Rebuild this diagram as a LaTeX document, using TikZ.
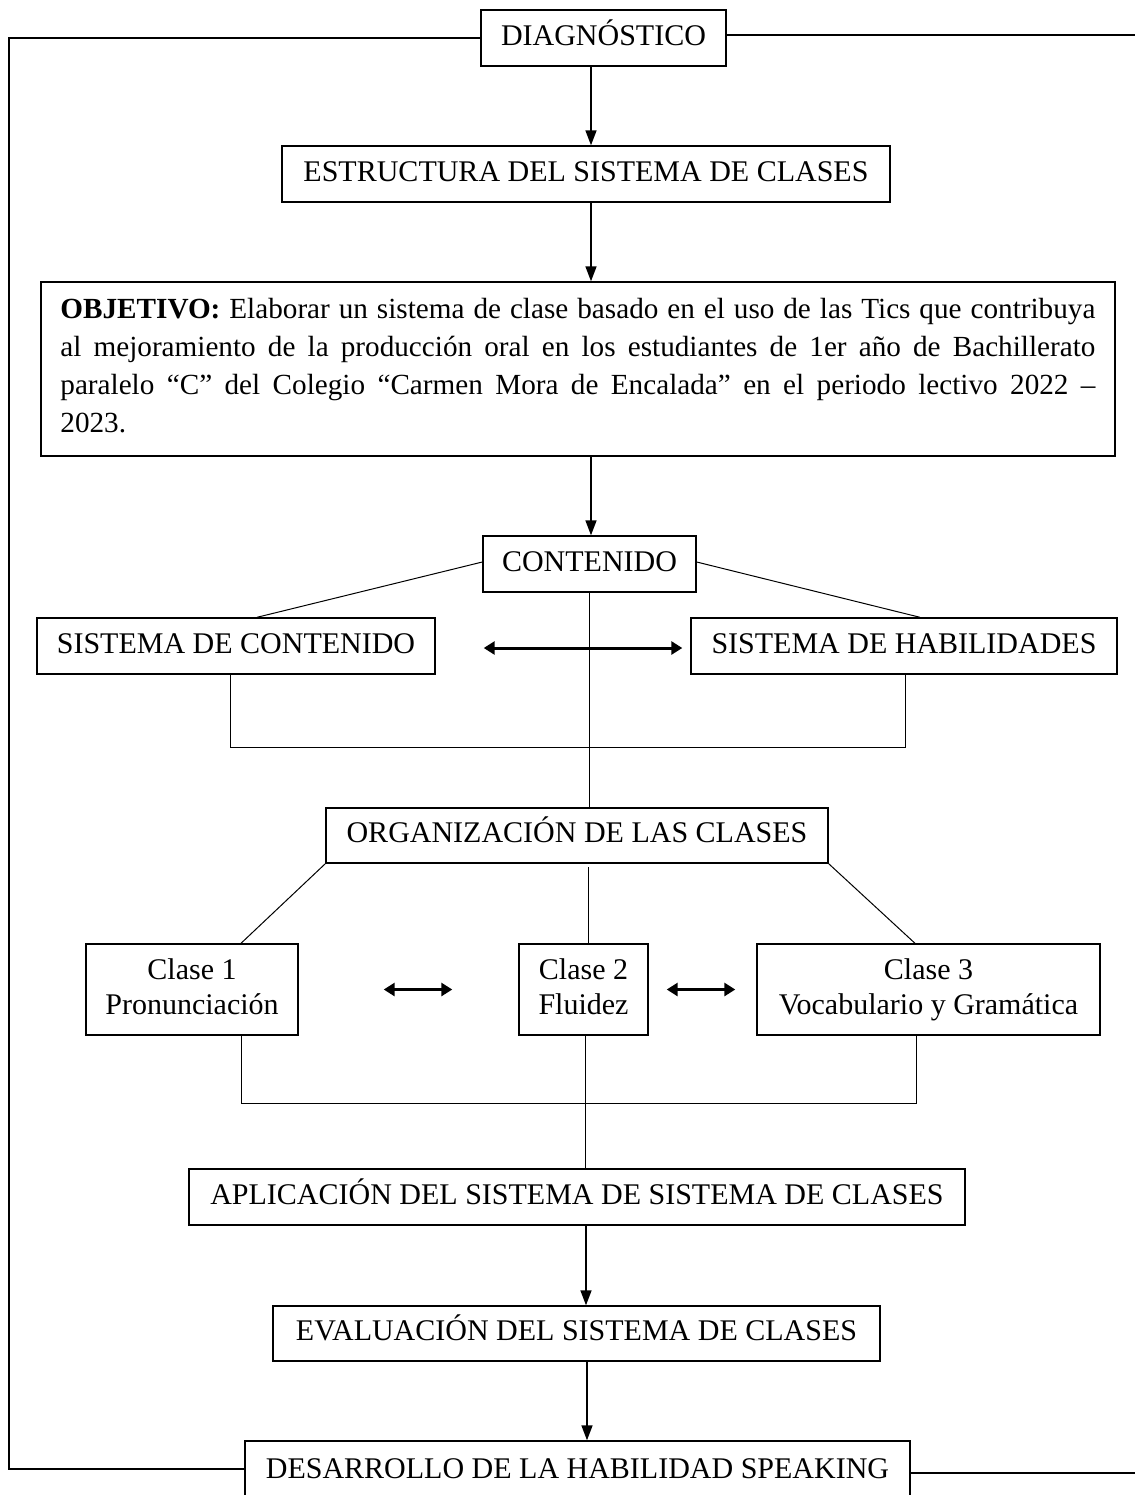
\documentclass[tikz,border=0pt]{standalone}
\usepackage{fontspec}
\setmainfont{Liberation Serif}
\usetikzlibrary{arrows.meta,calc}
\tikzset{
  box/.style={draw, line width=0.7pt, rectangle, inner sep=0pt, font=\fontsize{15}{17.5}\selectfont, align=center},
  onebox/.style={box, text height=10.5pt, text depth=3.5pt},
  link/.style={line width=0.5pt},
  down/.style={line width=0.8pt, -{Triangle[length=7.5pt,width=5.5pt]}},
  both/.style={line width=1.5pt, {Triangle[length=5.5pt,width=6.5pt]}-{Triangle[length=5.5pt,width=6.5pt]}},
}
\begin{document}
\begin{tikzpicture}[x=0.5pt,y=-0.5pt]
\useasboundingbox (0,0) rectangle (1135,1495);
% boxes
\node[onebox, minimum width=122.5pt, minimum height=28pt] (diag) at (603.5,38) {DIAGNÓSTICO};
\node[onebox, minimum width=304pt, minimum height=28pt] (estr) at (586,174) {ESTRUCTURA DEL SISTEMA DE CLASES};
\node[box, minimum width=537pt, minimum height=87pt] (objbox) at (578,369) {};
\node[anchor=north west, inner sep=0pt, text width=517.5pt, align=justify,
      font=\fontsize{14.6}{19}\selectfont] (obj) at (60,298)
  {\textbf{OBJETIVO:} Elaborar un sistema de clase basado en el uso de las Tics que contribuya\linebreak
   al mejoramiento de la producción oral en los estudiantes de 1er año de Bachillerato\linebreak
   paralelo “C” del Colegio “Carmen Mora de Encalada” en el periodo lectivo 2022 –\linebreak
   2023.};
\node[onebox, minimum width=106.5pt, minimum height=28pt] (cont) at (589.5,564) {CONTENIDO};
\node[onebox, minimum width=199pt, minimum height=28pt] (sc) at (236,646) {SISTEMA DE CONTENIDO};
\node[onebox, minimum width=213pt, minimum height=28pt] (sh) at (904,646) {SISTEMA DE HABILIDADES};
\node[onebox, minimum width=251pt, minimum height=27.5pt] (org) at (577,835.5) {ORGANIZACIÓN DE LAS CLASES};
\node[box, minimum width=106pt, minimum height=45.5pt] (c1) at (192,989.5) {\strut Clase 1\\\strut Pronunciación};
\node[box, minimum width=64.5pt, minimum height=45.5pt] (c2) at (583.5,989.5) {\strut Clase 2\\\strut Fluidez};
\node[box, minimum width=171.5pt, minimum height=45.5pt] (c3) at (928.5,989.5) {\strut Clase 3\\\strut Vocabulario y Gramática};
\node[onebox, minimum width=388pt, minimum height=28pt] (apl) at (577,1197) {APLICACIÓN DEL SISTEMA DE SISTEMA DE CLASES};
\node[onebox, minimum width=303.5pt, minimum height=27.5pt] (eval) at (576.5,1333.5) {EVALUACIÓN DEL SISTEMA DE CLASES};
\node[onebox, minimum width=332.5pt, minimum height=30pt] (des) at (577.5,1471) {DESARROLLO DE LA HABILIDAD SPEAKING};
% helper coordinates
\coordinate (ax1) at (591,0);
\coordinate (ax2) at (586,0);
\coordinate (L) at (9,0);
\coordinate (R) at (1140,0);
% vertical arrows
\draw[down] (diag.south -| ax1) -- (estr.north -| ax1);
\draw[down] (estr.south -| ax1) -- (objbox.north -| ax1);
\draw[down] (objbox.south -| ax1) -- (cont.north -| ax1);
\draw[down] (apl.south -| ax2) -- (eval.north -| ax2);
\draw[down] ([xshift=0.5pt]eval.south -| ax2) -- ([xshift=0.5pt]des.north -| ax2);
% outer loop
\draw[link, line width=0.6pt] (diag.west) -- (diag.west -| L) -- ([yshift=1pt]des.west -| L) -- ([yshift=1pt]des.west);
\draw[link, line width=0.6pt] ([yshift=1.5pt]diag.east) -- ([yshift=1.5pt]diag.east -| R);
\draw[link, line width=0.6pt] ([yshift=-1pt]des.east) -- ([yshift=-1pt]des.east -| R);
% contenido branches
\draw[link] ([yshift=1pt]cont.west) -- ([xshift=10.5pt]sc.north);
\draw[link] ([yshift=1pt]cont.east) -- ([xshift=8pt]sh.north);
\draw[both] ([xshift=24pt,yshift=-1pt]sc.east) -- ([xshift=-4pt,yshift=-1pt]sh.west);
\draw[link] (cont.south) -- (cont.south |- org.north);
\draw[link] ([xshift=-3pt]sc.south) -- ++(0,73) -| ([xshift=0.5pt]sh.south);
% organizacion branches
\draw[link] (org.south west) -- ([xshift=24.5pt]c1.north);
\draw[link] (c2.north -| 588,0) -- ([yshift=-1.5pt]org.south -| 588,0);
\draw[link] (org.south east) -- ([xshift=-6.75pt]c3.north);
\draw[both] ([xshift=42.5pt]c1.east) -- ([xshift=-33pt]c2.west);
\draw[both] ([xshift=9pt]c2.east) -- ([xshift=-10.5pt]c3.west);
\draw[link] ([xshift=24.5pt]c1.south) -- ++(0,68) -| ([xshift=-6.25pt]c3.south);
\draw[link] ([xshift=0.75pt]c2.south) -- ([xshift=0.75pt]c2.south |- apl.north);
\end{tikzpicture}
\end{document}
